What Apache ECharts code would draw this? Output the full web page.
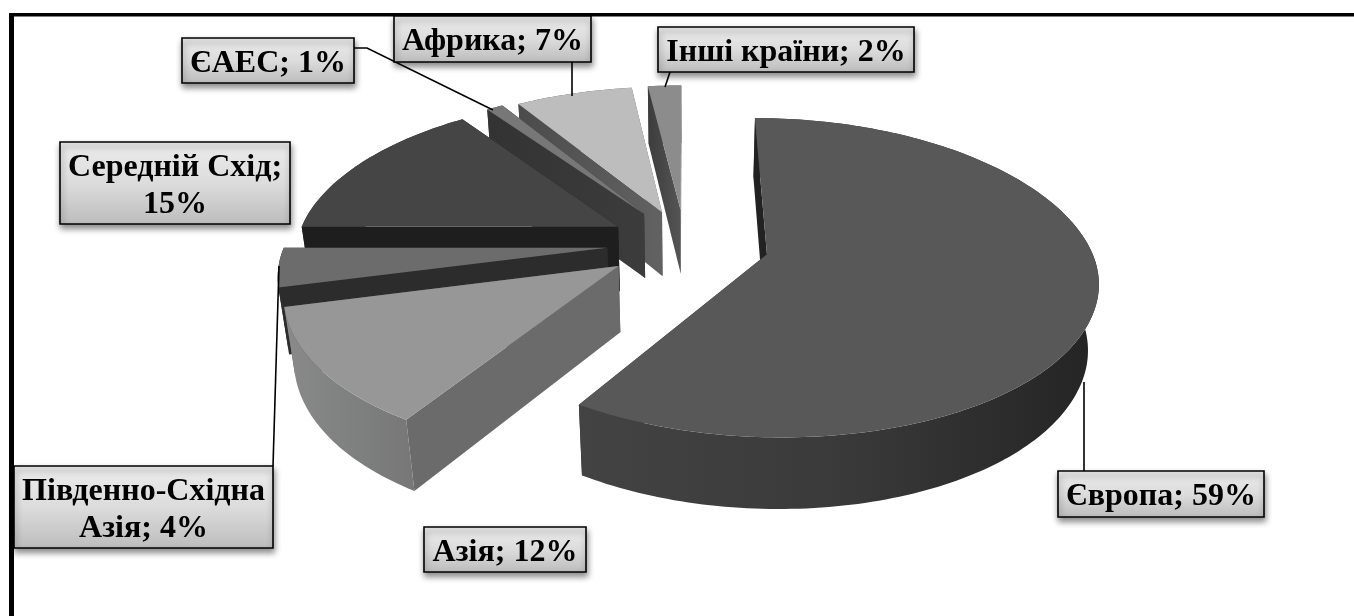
<!DOCTYPE html>
<html>
<head>
<meta charset="utf-8">
<style>html,body{margin:0;padding:0;background:#fff}#c{width:1354px;height:616px}</style>
<script src="https://cdn.jsdelivr.net/npm/echarts@6/dist/echarts.min.js"></script>
</head>
<body>
<div id="c"></div>
<script>
// ---- data ----
const categories = ['Європа', 'Азія', 'Південно-Східна Азія', 'Середній Схід', 'ЄАЕС', 'Африка', 'Інші країни'];
const shares = [59, 12, 4, 15, 1, 7, 2];
const labelTexts = ['Європа; 59%', 'Азія; 12%', 'Південно-Східна\nАзія; 4%', 'Середній Схід;\n15%', 'ЄАЕС; 1%', 'Африка; 7%', 'Інші країни; 2%'];

// ---- per-slice explosion (share of radius) ----
const explosion = [0.262, 0.249, 0.242, 0.237, 0.233, 0.218, 0.22];

// ---- styling ----
const topColors = ['#585858', '#979797', '#6c6c6c', '#454545', '#777777', '#bdbdbd', '#8c8c8c'];
const wallColors = [['#434343', '#3a3a3a', '#242424'], ['#8a8a8a', '#7f8080', '#777777'], ['#2c2c2c', '#2c2c2c', '#2c2c2c'], ['#333333', '#333333', '#333333'], ['#444444', '#444444', '#444444'], ['#555555', '#555555', '#555555'], ['#555555', '#555555', '#555555']];
const startFaceColors = [['#222222', '#222222'], ['#6b6b6b', '#6b6b6b'], ['#2c2c2c', '#2c2c2c'], ['#1e1e1e', '#1e1e1e'], ['#333333', '#3c3c3c'], ['#4b4b4b', '#626262'], ['#3c3c3c', '#555555']];
const endFaceColors = ['#333333', '#555555', '#2c2c2c', '#1e1e1e', '#363636', '#5f5f5f', '#555555'];

// ---- scene layout ----
const view = { cx: 685, cy: 243, rx: 322, ryBack: 156, ryFront: 152, kBack: 0.17, kFront: 0.15, kDepth: 0.026, depth: 67 };
const labelBoxes = [[1058, 471, 206, 46], [424, 527, 162, 45], [14, 466, 259, 82], [60, 142, 230, 82], [182, 38, 172, 45], [394, 16, 197, 46], [658, 27, 256, 45]];
const leaders = [
  [[1084, 382], [1084, 471]],
  null,
  [[279, 266], [273, 466]],
  null,
  [[354, 48], [367, 48], [493, 110]],
  [[572, 62], [572, 96]],
  [[670, 72], [665, 87]]
];
const drawOrder = [6, 5, 4, 3, 2, 1, 0];
const FONT = '"Liberation Serif", "Times New Roman", serif';

function project(u, v, z) {
  let t = Math.min(1, Math.max(0, (v + 0.6) / 1.2));
  t = t * t * (3 - 2 * t);
  const k = view.kBack + (view.kFront - view.kBack) * t;
  const ry = view.ryBack + (view.ryFront - view.ryBack) * t;
  const s = 1 / (1 - k * v + view.kDepth * z);
  return [view.cx + view.rx * u * s, view.cy + (ry * v + view.depth * z) * s];
}

const total = shares.reduce((a, b) => a + b, 0);
const slices = [];
let acc = 0;
shares.forEach((val, i) => {
  const a0 = acc / total * Math.PI * 2;
  acc += val;
  const a1 = acc / total * Math.PI * 2;
  const mid = (a0 + a1) / 2;
  slices.push({ a0, a1, ou: explosion[i] * Math.sin(mid), ov: -explosion[i] * Math.cos(mid) });
});

function rimPoint(sl, a, z) {
  return project(sl.ou + Math.sin(a), sl.ov - Math.cos(a), z);
}
function grad(stops) {
  return {
    type: 'linear', x: 0, y: 0, x2: 1, y2: 0,
    colorStops: stops.map((c, i) => ({ offset: stops.length > 1 ? i / (stops.length - 1) : 0, color: c }))
  };
}
function poly(points, fill) {
  return { type: 'polygon', shape: { points }, style: { fill, stroke: 'none' } };
}
function renderSlice(params, api) {
  const i = api.value(0);
  const sl = slices[i];
  const steps = Math.max(6, Math.round((sl.a1 - sl.a0) / 0.02));
  const topArc = [], botArc = [];
  for (let n = 0; n <= steps; n++) {
    const a = sl.a0 + (sl.a1 - sl.a0) * n / steps;
    topArc.push(rimPoint(sl, a, 0));
    botArc.push(rimPoint(sl, a, 1));
  }
  const apexTop = project(sl.ou, sl.ov, 0);
  const apexBot = project(sl.ou, sl.ov, 1);
  const startFace = [apexTop, topArc[0], botArc[0], apexBot];
  const endFace = [apexTop, topArc[steps], botArc[steps], apexBot];
  const wall = topArc.concat(botArc.slice().reverse());
  const top = [apexTop].concat(topArc);
  return {
    type: 'group',
    children: [
      poly(endFace, endFaceColors[i]),
      poly(wall, grad(wallColors[i])),
      poly(startFace, grad(startFaceColors[i])),
      poly(top, topColors[i])
    ]
  };
}
function renderLabel(params, api) {
  const i = api.value(0);
  const b = labelBoxes[i];
  const children = [];
  if (leaders[i]) {
    children.push({ type: 'polyline', shape: { points: leaders[i] }, style: { fill: 'none', stroke: '#000', lineWidth: 1.6 } });
  }
  children.push({
    type: 'rect', shape: { x: b[0], y: b[1], width: b[2], height: b[3] },
    style: {
      fill: { type: 'linear', x: 0, y: 0, x2: 0, y2: 1, colorStops: [{ offset: 0, color: '#ececec' }, { offset: 0.5, color: '#dcdcdc' }, { offset: 1, color: '#bcbcbc' }] },
      stroke: '#000', lineWidth: 1.6,
      shadowBlur: 6, shadowOffsetX: 1, shadowOffsetY: 4, shadowColor: 'rgba(0,0,0,0.45)'
    }
  });
  children.push({
    type: 'text',
    style: {
      text: labelTexts[i], x: b[0] + b[2] / 2, y: b[1] + b[3] / 2 + 3,
      align: 'center', verticalAlign: 'middle',
      font: 'bold 32px ' + FONT, lineHeight: 37, fill: '#000'
    }
  });
  return { type: 'group', children };
}

const chart = echarts.init(document.getElementById('c'), null, { renderer: 'canvas' });
chart.setOption({
  animation: false,
  backgroundColor: '#ffffff',
  graphic: [
    { type: 'rect', z: 0, shape: { x: 9, y: 13, width: 1345, height: 3.5 }, style: { fill: '#000' } },
    { type: 'rect', z: 0, shape: { x: 9, y: 13, width: 5, height: 603 }, style: { fill: '#000' } }
  ],
  series: [
    { type: 'custom', coordinateSystem: 'none', silent: true, z: 2, renderItem: renderSlice, data: drawOrder.map(i => [i, shares[i]]), encode: {} },
    { type: 'custom', coordinateSystem: 'none', silent: true, z: 3, renderItem: renderLabel, data: categories.map((c, i) => [i, shares[i], c]), encode: {} }
  ]
});
</script>
</body>
</html>
